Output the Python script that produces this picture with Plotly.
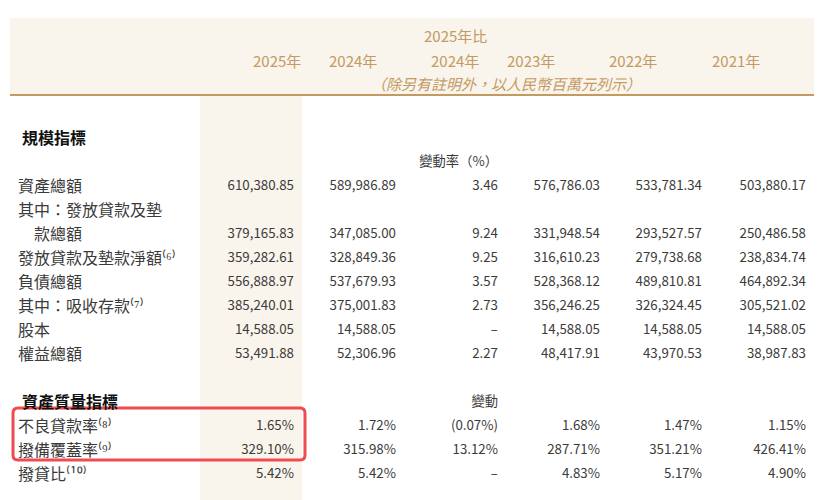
import plotly.graph_objects as go

W, H = 824, 500
FONT = "Noto Sans CJK TC"
GOLD = "#c49a63"
CREAM = "#f9f4ec"
INK = "#3b3b3b"

years = ["2025年", "2024年", "2024年", "2023年", "2022年", "2021年"]
change_head = "2025年比"
unit_note = "（除另有註明外，以人民幣百萬元列示）"

labels = [
    "", "", "", "資產總額", "其中：發放貸款及墊", "　款總額",
    "發放貸款及墊款淨額⁽⁶⁾", "負債總額", "其中：吸收存款⁽⁷⁾",
    "股本", "權益總額", "", "",
    "不良貸款率⁽⁸⁾", "撥備覆蓋率⁽⁹⁾", "撥貸比⁽¹⁰⁾", "",
]
sections = {1: "規模指標", 12: "資產質量指標"}
v2025 = ["", "", "", "610,380.85", "", "379,165.83", "359,282.61", "556,888.97",
         "385,240.01", "14,588.05", "53,491.88", "", "", "1.65%", "329.10%", "5.42%", ""]
v2024 = ["", "", "", "589,986.89", "", "347,085.00", "328,849.36", "537,679.93",
         "375,001.83", "14,588.05", "52,306.96", "", "", "1.72%", "315.98%", "5.42%", ""]
change = ["", "", "變動率（%）", "3.46", "", "9.24", "9.25", "3.57",
          "2.73", "–", "2.27", "", "變動", "(0.07%)", "13.12%", "–", ""]
v2023 = ["", "", "", "576,786.03", "", "331,948.54", "316,610.23", "528,368.12",
         "356,246.25", "14,588.05", "48,417.91", "", "", "1.68%", "287.71%", "4.83%", ""]
v2022 = ["", "", "", "533,781.34", "", "293,527.57", "279,738.68", "489,810.81",
         "326,324.45", "14,588.05", "43,970.53", "", "", "1.47%", "351.21%", "5.17%", ""]
v2021 = ["", "", "", "503,880.17", "", "250,486.58", "238,834.74", "464,892.34",
         "305,521.02", "14,588.05", "38,987.83", "", "", "1.15%", "426.41%", "4.90%", ""]

col_widths = [190, 102, 102, 102, 102, 102, 104]
x0, y0 = 10, 18          # top-left of the table
rule_y = 95              # gold rule under the header
body_top = 100           # first body row (table header runs down to here)
row_h = 24
text_dy = 13             # where a row's text sits below the row's top edge


def px(x, y):
    return x / W, 1 - y / H


fig = go.Figure(go.Table(
    domain=dict(x=[x0 / W, (x0 + sum(col_widths)) / W], y=[0, 1 - y0 / H]),
    columnwidth=col_widths,
    header=dict(
        values=[""] * 7,
        height=body_top - y0,
        fill_color=CREAM,
        line=dict(width=0, color=CREAM),
    ),
    cells=dict(
        values=[labels, v2025, v2024, change, v2023, v2022, v2021],
        height=row_h,
        fill_color=["white", CREAM, "white", "white", "white", "white", "white"],
        line=dict(width=0, color="white"),
        align=["left"] + ["right"] * 6,
        font=dict(family=FONT, size=[16] + [13.3] * 6, color=INK),
    ),
))

edges = [x0]
for w in col_widths:
    edges.append(edges[-1] + w)

# white strip under the rule, leaving the 2025 column cream
for a, b in [(edges[0], edges[1]), (edges[2], edges[-1])]:
    u0, v0 = px(a, rule_y)
    u1, v1 = px(b, body_top)
    fig.add_shape(type="rect", xref="paper", yref="paper", x0=u0, x1=u1, y0=v1, y1=v0,
                  fillcolor="white", line=dict(width=0), layer="above")

# bold section headings, placed on their (blank) table rows
for row, name in sections.items():
    ax, ay = px(edges[0] + 10, body_top + row * row_h + text_dy)
    fig.add_annotation(x=ax, y=ay, xref="paper", yref="paper", text="<b>" + name + "</b>",
                       showarrow=False, xanchor="left", yanchor="middle",
                       font=dict(family=FONT, size=16, color="#111111"))

# header texts
for i, yr in enumerate(years):
    ax, ay = px((edges[i + 1] + edges[i + 2]) / 2, 60)
    fig.add_annotation(x=ax, y=ay, xref="paper", yref="paper", text=yr, showarrow=False,
                       yanchor="middle", font=dict(family=FONT, size=15, color=GOLD))
ax, ay = px((edges[3] + edges[4]) / 2, 35)
fig.add_annotation(x=ax, y=ay, xref="paper", yref="paper", text=change_head, showarrow=False,
                   yanchor="middle", font=dict(family=FONT, size=15, color=GOLD))
ax, ay = px(edges[4], 83)
fig.add_annotation(x=ax, y=ay, xref="paper", yref="paper", text="<i>" + unit_note + "</i>",
                   showarrow=False, yanchor="middle", font=dict(family=FONT, size=15, color=GOLD))

# gold rule under the header
lx0, ly = px(edges[0], rule_y)
lx1, _ = px(edges[-1], rule_y)
fig.add_shape(type="line", xref="paper", yref="paper", x0=lx0, x1=lx1, y0=ly, y1=ly,
              line=dict(color=GOLD, width=2))

# red highlight box with rounded corners
bx0, by0, bx1, by1, r = 13, 408, 305, 460, 5
pts = [
    ("M", bx0 + r, by0), ("L", bx1 - r, by0), ("Q", bx1, by0, bx1, by0 + r),
    ("L", bx1, by1 - r), ("Q", bx1, by1, bx1 - r, by1), ("L", bx0 + r, by1),
    ("Q", bx0, by1, bx0, by1 - r), ("L", bx0, by0 + r), ("Q", bx0, by0, bx0 + r, by0),
]
path = ""
for p in pts:
    coords = []
    for i in range(1, len(p), 2):
        u, v = px(p[i], p[i + 1])
        coords.append(f"{u:.5f},{v:.5f}")
    path += p[0] + " ".join(coords) + " "
fig.add_shape(type="path", xref="paper", yref="paper", path=path + "Z",
              line=dict(color="#f04b50", width=3))

fig.update_layout(width=W, height=H, margin=dict(l=0, r=0, t=0, b=0),
                  paper_bgcolor="white", plot_bgcolor="white")
fig.write_html("out.html", config={"displayModeBar": False},
               post_script="document.body.style.margin='0';")
